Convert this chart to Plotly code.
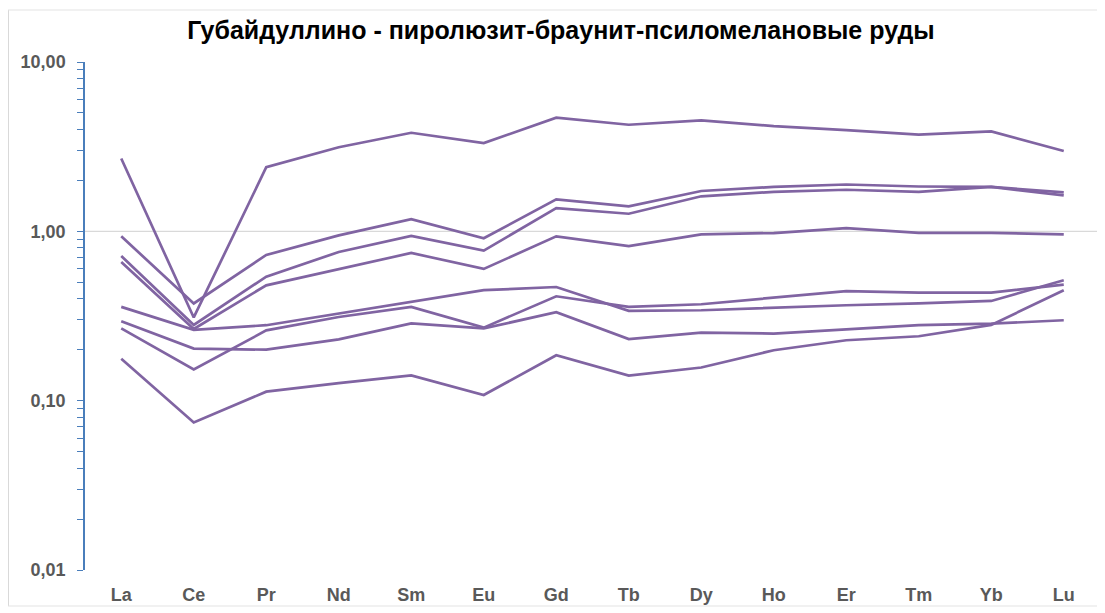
import plotly.graph_objects as go

elements = ["La", "Ce", "Pr", "Nd", "Sm", "Eu", "Gd", "Tb", "Dy", "Ho", "Er", "Tm", "Yb", "Lu"]

s1 = [2.69, 0.31, 2.39, 3.14, 3.82, 3.32, 4.69, 4.26, 4.52, 4.18, 3.96, 3.72, 3.89, 2.98]
s2 = [0.935, 0.375, 0.725, 0.947, 1.18, 0.91, 1.545, 1.404, 1.73, 1.83, 1.89, 1.84, 1.83, 1.63]
s3 = [0.715, 0.28, 0.54, 0.755, 0.94, 0.77, 1.37, 1.27, 1.61, 1.71, 1.76, 1.71, 1.83, 1.70]
s4 = [0.659, 0.265, 0.48, 0.60, 0.745, 0.60, 0.934, 0.819, 0.96, 0.977, 1.046, 0.98, 0.98, 0.96]
s5 = [0.358, 0.262, 0.279, 0.327, 0.383, 0.449, 0.469, 0.339, 0.342, 0.355, 0.366, 0.375, 0.388, 0.514]
s6 = [0.267, 0.153, 0.26, 0.312, 0.358, 0.27, 0.4135, 0.358, 0.371, 0.406, 0.444, 0.435, 0.435, 0.485]
s7 = [0.294, 0.203, 0.20, 0.23, 0.286, 0.267, 0.333, 0.231, 0.252, 0.249, 0.264, 0.279, 0.285, 0.2985]
s8 = [0.177, 0.0743, 0.113, 0.127, 0.141, 0.108, 0.1855, 0.1407, 0.157, 0.1986, 0.2275, 0.240, 0.28, 0.449]

series = [s1, s2, s3, s4, s5, s6, s7, s8]

y_tickvals = [0.01, 0.1, 1, 10]
y_ticktext = ["0,01", "0,10", "1,00", "10,00"]

line_color = "#8064A2"
axis_blue = "#4A7EBB"
label_grey = "#595959"
font_family = "Liberation Sans, Arial"

fig = go.Figure()
for s in series:
    fig.add_trace(go.Scatter(x=elements, y=s, mode="lines",
                             line=dict(color=line_color, width=2.7),
                             showlegend=False, hoverinfo="skip"))

# minor tick positions (2..9 in each decade) with empty labels
tv, tt = [], []
for i, d in enumerate(y_tickvals):
    tv.append(d)
    tt.append(y_ticktext[i])
    if i < len(y_tickvals) - 1:
        for m in range(2, 10):
            tv.append(round(d * m, 6))
            tt.append("")

# page body has an 8px margin, so the figure is sized/placed to compensate
W, H = 1097, 605
L, R, T, B = 77, 5, 54, 43
pw = W - L - R
ph = H - T - B

def px_x(px):
    return (px - L) / pw

def px_y(py):
    return 1 - (py - T) / ph

fig.update_layout(
    width=W, height=H,
    margin=dict(l=L, r=R, t=T, b=B),
    paper_bgcolor="white", plot_bgcolor="white",
    title=dict(text="<b>Губайдуллино - пиролюзит-браунит-псиломелановые руды</b>",
               x=553 / W, xanchor="center", y=1 - 22 / H, yanchor="middle",
               font=dict(family=font_family, size=25, color="#000000")),
    xaxis=dict(type="category", range=[-0.5, 13.5], showline=False, showgrid=False, ticks="",
               zeroline=False, ticklabelstandoff=12,
               tickfont=dict(family=font_family, size=18, color=label_grey, weight="bold")),
    yaxis=dict(type="log", range=[-2, 1], tickmode="array", tickvals=tv, ticktext=tt,
               showgrid=False, zeroline=False,
               showline=True, linecolor=axis_blue, linewidth=1.5,
               ticks="outside", ticklen=6, tickcolor=axis_blue, tickwidth=1.3,
               ticklabelstandoff=8,
               tickfont=dict(family=font_family, size=18, color=label_grey, weight="bold")),
    shapes=[
        dict(type="line", xref="paper", yref="y", x0=0, x1=1, y0=1, y1=1,
             line=dict(color="#D9D9D9", width=1.2), layer="below"),
        dict(type="line", xref="paper", yref="paper", x0=px_x(0.5), x1=px_x(0.5),
             y0=px_y(2), y1=px_y(598), line=dict(color="#D9D9D9", width=1)),
        dict(type="line", xref="paper", yref="paper", x0=px_x(0), x1=px_x(1097),
             y0=px_y(2), y1=px_y(2), line=dict(color="#E3E3E3", width=1)),
        dict(type="line", xref="paper", yref="paper", x0=px_x(0), x1=px_x(1097),
             y0=px_y(598), y1=px_y(598), line=dict(color="#E3E3E3", width=1)),
    ],
)

fig.write_html("out.html")
